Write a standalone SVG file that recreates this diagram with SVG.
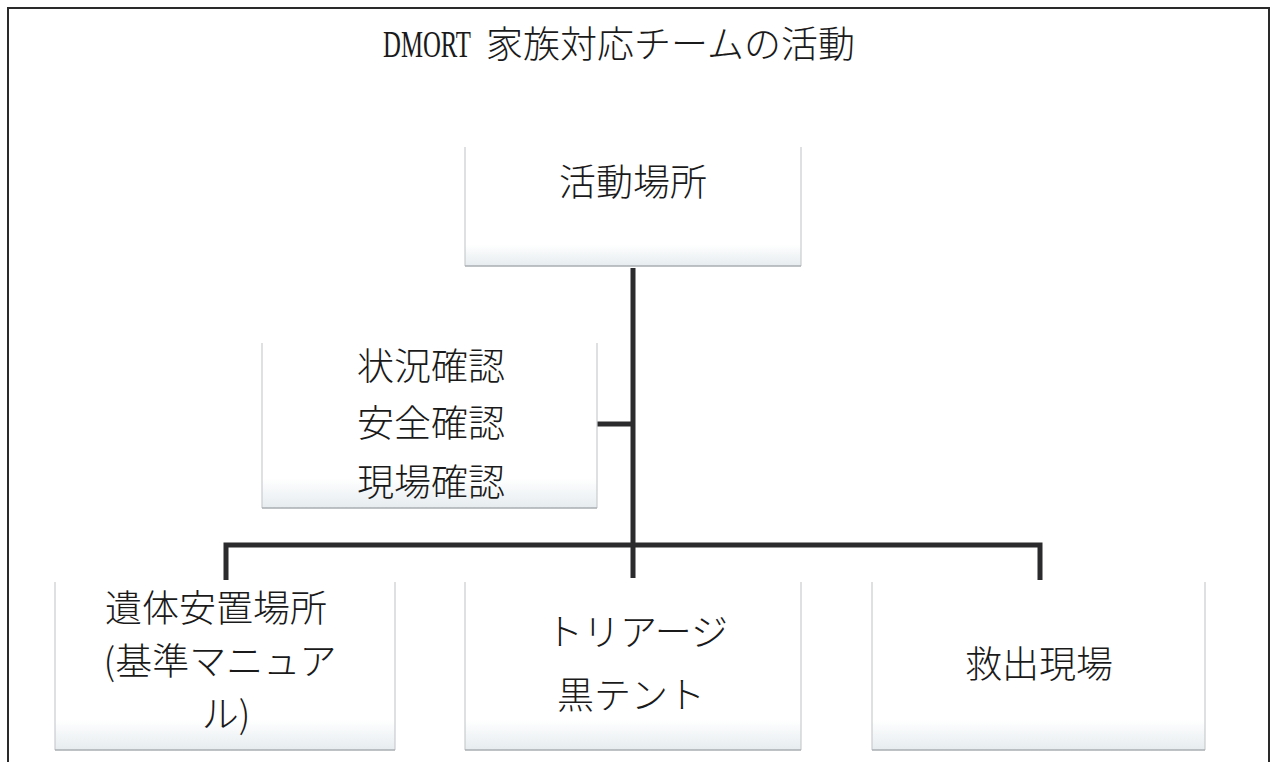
<svg xmlns="http://www.w3.org/2000/svg" width="1278" height="762" viewBox="0 0 1278 762">
  <defs>
    <linearGradient id="boxfill" x1="0" y1="0" x2="0" y2="1">
      <stop offset="0" stop-color="#ffffff"/>
      <stop offset="0.82" stop-color="#ffffff"/>
      <stop offset="1" stop-color="#e6ecef"/>
    </linearGradient>
  </defs>
  <style>
    .box { fill: url(#boxfill); stroke: none; }
    .edge { fill: none; stroke: #c9cccf; stroke-width: 1.2; }
    .bottom { fill: none; stroke: #a9aeb2; stroke-width: 1.6; }
    .lbl { font-family: "Noto Sans CJK JP", "Noto Sans CJK SC", sans-serif; font-size: 37px; font-weight: 300; fill: #1a1a1a; text-anchor: middle; }
    .conn { fill: none; stroke: #2b2b2d; stroke-width: 5; stroke-linejoin: miter; }
    .frame { fill: none; stroke: #2a2a2a; stroke-width: 2; }
  </style>

  <rect x="0" y="0" width="1278" height="762" fill="#ffffff"/>
  <path class="frame" d="M8 762 V8 H1269 V762"/>

  <g id="title">
    <g transform="translate(383 57) scale(0.67 1)">
      <text x="0" y="0" font-family="Liberation Serif, serif" font-size="37" fill="#1a1a1a">DMORT</text>
    </g>
    <text x="486" y="58" font-family="Noto Sans CJK JP, Noto Sans CJK SC, sans-serif" font-size="37" font-weight="300" fill="#1a1a1a">家族対応チームの活動</text>
  </g>

  <g id="connectors">
    <path class="conn" d="M633 268 V578"/>
    <path class="conn" d="M597 424 H633"/>
    <path class="conn" d="M226 580 V545 H1040 V580"/>
  </g>

  <g id="node-top">
    <rect class="box" x="465" y="147" width="336" height="119"/>
    <path class="edge" d="M465 147 V266 M801 147 V266"/>
    <path class="bottom" d="M465 266 H801"/>
    <text class="lbl" x="633" y="196">活動場所</text>
  </g>

  <g id="node-check">
    <rect class="box" x="262" y="343" width="335" height="165"/>
    <path class="edge" d="M262 343 V508 M597 343 V508"/>
    <path class="bottom" d="M262 508 H597"/>
    <text class="lbl"><tspan x="431" y="380">状況確認</tspan><tspan x="431" y="437">安全確認</tspan><tspan x="431" y="496">現場確認</tspan></text>
  </g>

  <g id="node-morgue">
    <rect class="box" x="55" y="582" width="340" height="168"/>
    <path class="edge" d="M55 582 V750 M395 582 V750"/>
    <path class="bottom" d="M55 750 H395"/>
    <text class="lbl"><tspan x="216" y="622">遺体安置場所</tspan><tspan x="220" y="675">(基準マニュア</tspan><tspan x="226" y="728">ル)</tspan></text>
  </g>

  <g id="node-triage">
    <rect class="box" x="465" y="582" width="336" height="168"/>
    <path class="edge" d="M465 582 V750 M801 582 V750"/>
    <path class="bottom" d="M465 750 H801"/>
    <text class="lbl"><tspan x="637" y="646">トリアージ</tspan><tspan x="631" y="709">黒テント</tspan></text>
  </g>

  <g id="node-rescue">
    <rect class="box" x="872" y="582" width="333" height="168"/>
    <path class="edge" d="M872 582 V750 M1205 582 V750"/>
    <path class="bottom" d="M872 750 H1205"/>
    <text class="lbl" x="1039" y="678">救出現場</text>
  </g>
</svg>
